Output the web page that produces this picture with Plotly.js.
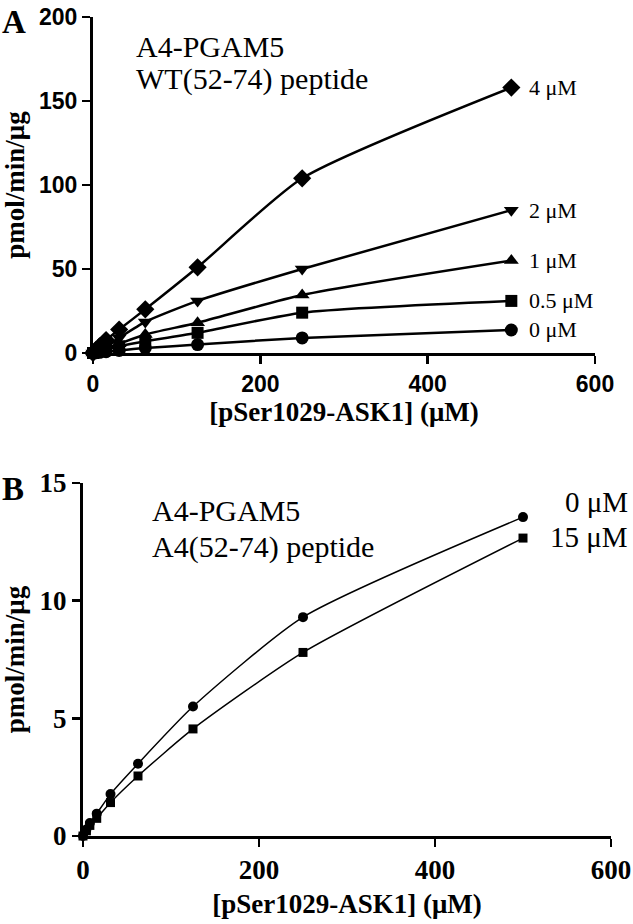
<!DOCTYPE html>
<html>
<head>
<meta charset="utf-8">
<script src="https://cdn.plot.ly/plotly-3.0.1.min.js"></script>
<style>
  html, body { margin: 0; padding: 0; background: #fff; }
  #myDiv { width: 633px; height: 924px; }
</style>
</head>
<body>
<div id="myDiv"></div>
<script>
// substrate concentrations (uM)
var conc = [0, 3.9, 7.8, 15.6, 31.25, 62.5, 125, 250, 500];

// panel A: A4-PGAM5 + WT(52-74) peptide
var a_4uM  = [0, 2, 4, 7.7, 14, 26, 51, 104, 158];
var a_2uM  = [0, 1, 2, 4, 9, 18.5, 31, 50, 85];
var a_1uM  = [0, 0.7, 1.4, 2.8, 5.5, 11, 18, 34.5, 55];
var a_05uM = [0, 0.5, 1, 2, 4, 7, 12, 24, 31];
var a_0uM  = [0, 0.2, 0.4, 0.8, 1.5, 3, 5, 9, 13.7];

// panel B: A4-PGAM5 + A4(52-74) peptide
var b_0uM  = [0, 0.28, 0.55, 0.95, 1.78, 3.07, 5.5, 9.3, 13.55];
var b_15uM = [0, 0.22, 0.45, 0.75, 1.42, 2.55, 4.55, 7.8, 12.66];

var labelsA = ['4 \u03BCM', '2 \u03BCM', '1 \u03BCM', '0.5 \u03BCM', '0 \u03BCM'];
var labelsB = ['0 \u03BCM', '15 \u03BCM'];
var xTicks = [0, 200, 400, 600];
var yTicksA = [0, 50, 100, 150, 200];
var yTicksB = [0, 5, 10, 15];

var serif = 'Liberation Serif, Times New Roman, serif';
var sans = 'Liberation Sans, Arial, sans-serif';

function seriesA(y, sym, size, name) {
  return {
    x: conc, y: y, name: name, type: 'scatter', mode: 'lines+markers',
    line: {color: 'black', width: 2.5, shape: 'spline', smoothing: 0.6},
    marker: {symbol: sym, size: size, color: 'black'},
    cliponaxis: false, xaxis: 'x', yaxis: 'y'
  };
}
function seriesB(y, sym, size, name) {
  return {
    x: conc, y: y, name: name, type: 'scatter', mode: 'lines+markers',
    line: {color: 'black', width: 1.5, shape: 'spline', smoothing: 0.6},
    marker: {symbol: sym, size: size, color: 'black'},
    cliponaxis: false, xaxis: 'x2', yaxis: 'y2'
  };
}

var data = [
  seriesA(a_0uM, 'circle', 13, labelsA[4]),
  seriesA(a_05uM, 'square', 12, labelsA[3]),
  seriesA(a_1uM, 'triangle-up', 13, labelsA[2]),
  seriesA(a_2uM, 'triangle-down', 13, labelsA[1]),
  seriesA(a_4uM, 'diamond', 14, labelsA[0]),
  seriesB(b_0uM, 'circle', 10, labelsB[0]),
  seriesB(b_15uM, 'square', 9, labelsB[1])
];

var axisBase = {
  showgrid: false, zeroline: false, showline: true,
  linecolor: 'black', linewidth: 3,
  ticks: 'outside', ticklen: 8, tickwidth: 2.5, tickcolor: 'black'
};

var xTitleFont = {family: serif, size: 27, color: 'black', weight: 'bold'};

var layout = {
  width: 633, height: 924,
  margin: {l: 0, r: 0, t: 0, b: 0},
  paper_bgcolor: 'white', plot_bgcolor: 'white',
  showlegend: false,
  xaxis: Object.assign({}, axisBase, {
    domain: [93 / 633, 595 / 633], anchor: 'y',
    range: [0, 600], tickvals: xTicks,
    tickfont: {family: sans, size: 23, color: 'black', weight: 'bold'},
    title: {text: '[pSer1029-ASK1] (\u03BCM)', font: xTitleFont, standoff: 6}
  }),
  yaxis: Object.assign({}, axisBase, {
    domain: [1 - 353 / 924, 1 - 17 / 924], anchor: 'x',
    range: [0, 200], tickvals: yTicksA,
    tickfont: {family: sans, size: 23, color: 'black', weight: 'bold'},
    title: {text: 'pmol/min/\u03BCg', font: xTitleFont, standoff: 10}
  }),
  xaxis2: Object.assign({}, axisBase, {
    domain: [83 / 633, 611 / 633], anchor: 'y2',
    range: [0, 600], tickvals: xTicks,
    tickfont: {family: serif, size: 27, color: 'black', weight: 'bold'},
    title: {text: '[pSer1029-ASK1] (\u03BCM)', font: xTitleFont, standoff: 10}
  }),
  yaxis2: Object.assign({}, axisBase, {
    domain: [1 - 836 / 924, 1 - 483 / 924], anchor: 'x2',
    range: [0, 15], tickvals: yTicksB,
    tickfont: {family: serif, size: 27, color: 'black', weight: 'bold'},
    title: {text: 'pmol/min/\u03BCg', font: xTitleFont, standoff: 12}
  }),
  annotations: []
};

var ann = layout.annotations;
// panel letters
ann.push({text: '<b>A</b>', xref: 'paper', yref: 'paper', x: 0, y: 1 - 22 / 924,
  xanchor: 'left', yanchor: 'middle', showarrow: false,
  font: {family: serif, size: 33, color: 'black'}});
ann.push({text: '<b>B</b>', xref: 'paper', yref: 'paper', x: 0, y: 1 - 489 / 924,
  xanchor: 'left', yanchor: 'middle', showarrow: false,
  font: {family: serif, size: 33, color: 'black'}});

// panel headings
var headA = ['A4-PGAM5', 'WT(52-74) peptide'];
var headB = ['A4-PGAM5', 'A4(52-74) peptide'];
headA.forEach(function (t, i) {
  ann.push({text: t, xref: 'paper', yref: 'paper', x: 134 / 633, y: 1 - (46 + i * 33) / 924,
    xanchor: 'left', yanchor: 'middle', showarrow: false,
    font: {family: serif, size: 30, color: 'black'}});
});
headB.forEach(function (t, i) {
  ann.push({text: t, xref: 'paper', yref: 'paper', x: 150 / 633, y: 1 - (510 + i * 37) / 924,
    xanchor: 'left', yanchor: 'middle', showarrow: false,
    font: {family: serif, size: 30, color: 'black'}});
});

// series labels, panel A
var endA = [a_4uM, a_2uM, a_1uM, a_05uM, a_0uM];
endA.forEach(function (s, i) {
  ann.push({text: labelsA[i], xref: 'x', yref: 'y', x: conc[conc.length - 1], y: s[s.length - 1],
    xanchor: 'left', yanchor: 'middle', xshift: 16, showarrow: false,
    font: {family: serif, size: 22, color: 'black'}});
});
// series labels, panel B
var yB = [1 - 502 / 924, 1 - 537 / 924];
labelsB.forEach(function (t, i) {
  ann.push({text: t, xref: 'paper', yref: 'paper', x: 630 / 633, y: yB[i],
    xanchor: 'right', yanchor: 'middle', showarrow: false,
    font: {family: serif, size: 29, color: 'black'}});
});

Plotly.newPlot('myDiv', data, layout, {staticPlot: true});
</script>
</body>
</html>
